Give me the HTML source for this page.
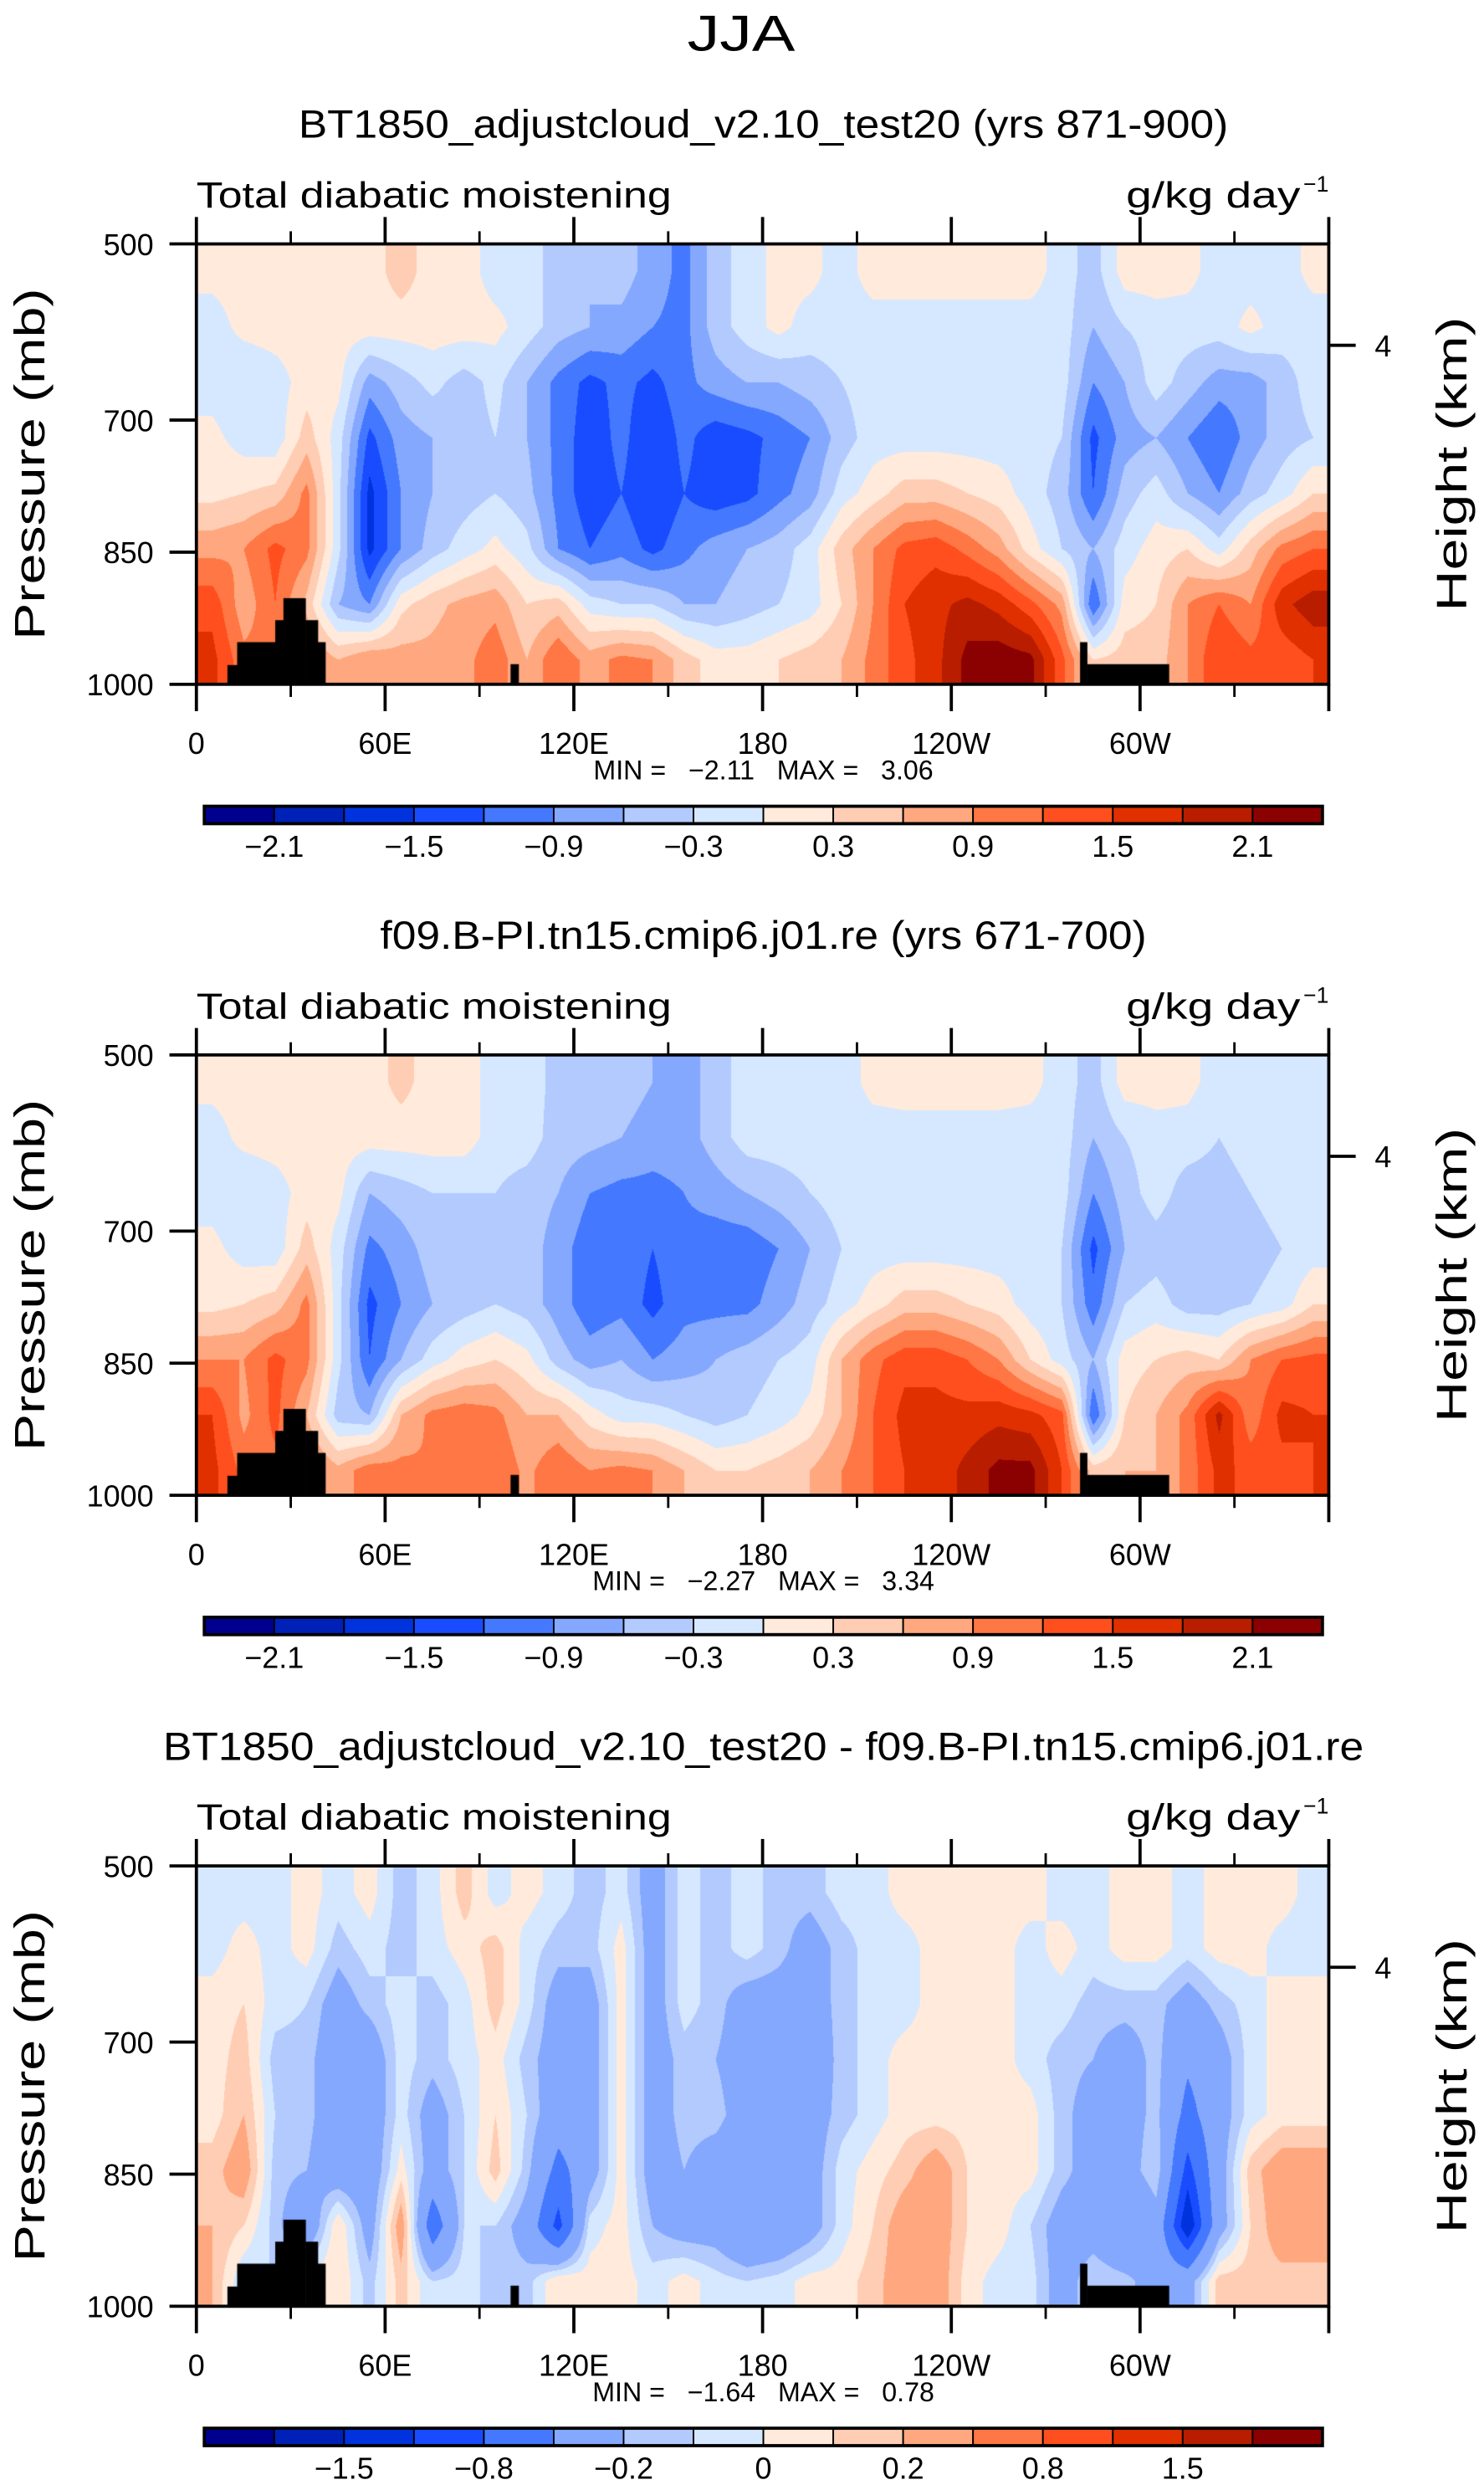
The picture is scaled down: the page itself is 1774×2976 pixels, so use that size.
<!DOCTYPE html>
<html><head><meta charset="utf-8">
<style>
html,body{margin:0;padding:0;background:#fff;}
#root{position:relative;width:1774px;height:2976px;overflow:hidden;background:#fff;}
canvas{position:absolute;}
svg{position:absolute;left:0;top:0;}
text{font-family:"Liberation Sans",sans-serif;fill:#000;white-space:pre;}
</style></head>
<body>
<div id="root">
<canvas id="c0"></canvas>
<canvas id="c1"></canvas>
<canvas id="c2"></canvas>
<svg id="ov" width="1774" height="2976" viewBox="0 0 937 1572" preserveAspectRatio="none"></svg>
</div>
<script>
// ---------- data ----------
const lonCenters = [5,15,25,35,45,55,65,75,85,95,105,115,125,135,145,155,165,175,185,195,205,215,225,235,245,255,265,275,285,295,305,315,325,335,345,355];
const presCenters = [531,594,656,719,781,844,906,969];
const xTickLabels = ["0","60E","120E","180","120W","60W"];
const xTickLons = [0,60,120,180,240,300];
const yTickLabels = ["500","700","850","1000"];
const yTickVals = [500,700,850,1000];
const levelsAB = [-2.1,-1.8,-1.5,-1.2,-0.9,-0.6,-0.3,0,0.3,0.6,0.9,1.2,1.5,1.8,2.1];
const levelsC = [-2,-1.5,-1,-0.8,-0.5,-0.2,-0.1,0,0.1,0.2,0.5,0.8,1,1.5,2];
const cbLabelsAB = ["−2.1","−1.5","−0.9","−0.3","0.3","0.9","1.5","2.1"];
const cbLabelsC = ["−1.5","−0.8","−0.2","0","0.2","0.8","1.5"];
const titles = ["BT1850_adjustcloud_v2.10_test20 (yrs 871-900)","f09.B-PI.tn15.cmip6.j01.re (yrs 671-700)","BT1850_adjustcloud_v2.10_test20 - f09.B-PI.tn15.cmip6.j01.re"];
const titleWidths = [587,484,758];
const minVals = ["−2.11","−2.27","−1.64"];
const maxVals = ["3.06","3.34","0.78"];
const topoLon0 = [9.8,12.9,25,27.6,34.6,38.5,99.8,280.8,283];
const topoLon1 = [12.9,25,27.6,34.6,38.5,40.9,102.3,283,309];
const topoP = [978,952,927,902,927,952,977,952,977];

const field1 = [
[0.1,0.15,0.15,0.15,0.15,0.15,0.45,0.15,0.15,-0.15,-0.15,-0.45,-0.6,-0.45,-0.75,-1.0,-0.45,-0.15,0.1,0.1,-0.15,0.15,0.15,0.15,0.15,0.15,0.15,-0.15,-0.45,0.15,0.15,0.1,-0.15,-0.15,-0.15,0.1],
[-0.15,0.1,0.15,0.15,0.15,0.15,0.15,0.15,0.15,0.1,-0.15,-0.45,-0.6,-0.7,-0.9,-1.0,-0.45,-0.15,0.1,-0.15,-0.15,-0.15,-0.15,-0.15,-0.15,-0.15,-0.15,-0.15,-0.6,-0.3,-0.15,-0.15,-0.15,0.1,-0.15,-0.15],
[-0.15,-0.3,-0.15,0.15,0.1,-0.75,-0.45,-0.2,-0.45,-0.2,-0.6,-1.0,-1.3,-1.1,-1.3,-1.0,-0.75,-0.6,-0.6,-0.45,-0.3,-0.15,-0.15,-0.15,-0.15,-0.15,-0.15,-0.15,-0.9,-0.6,-0.15,-0.45,-0.75,-0.75,-0.45,-0.15],
[0.1,-0.15,-0.2,0.45,-0.15,-1.3,-0.75,-0.6,-0.45,-0.3,-0.6,-1.0,-1.4,-1.1,-1.5,-1.1,-1.4,-1.3,-1.1,-0.9,-0.45,-0.15,-0.15,-0.15,-0.15,-0.15,-0.15,-0.3,-1.3,-0.75,-0.6,-0.9,-1.2,-0.75,-0.45,-0.3],
[0.2,0.3,0.4,1.0,-0.2,-1.6,-0.9,-0.6,-0.45,-0.3,-0.5,-1.0,-1.4,-1.2,-1.5,-1.2,-1.4,-1.3,-1.0,-0.75,-0.15,0.15,0.45,0.45,0.3,0.15,-0.15,-0.45,-1.2,-0.45,-0.15,-0.6,-0.9,-0.45,-0.15,0.3],
[0.8,0.9,1.3,1.0,-0.2,-1.6,-0.9,-0.45,-0.15,0.1,-0.2,-0.9,-1.2,-1.0,-1.3,-1.0,-0.75,-0.6,-0.45,-0.15,0.45,0.9,1.3,1.4,1.1,0.75,0.15,-0.3,-0.6,-0.15,0.15,0.3,-0.15,0.45,1.0,1.2],
[1.4,0.7,1.2,0.5,-0.6,-0.9,0.2,0.5,0.7,0.8,0.3,0.45,-0.15,-0.3,-0.3,-0.6,-0.6,-0.45,-0.3,-0.15,0.3,0.9,1.5,1.7,1.9,1.7,1.3,0.8,-1.2,0.15,0.3,0.9,1.2,0.9,1.7,2.0],
[1.6,1.0,1.0,1.0,0.6,0.9,0.75,0.7,0.8,1.1,0.6,1.2,0.75,1.0,0.9,0.45,0.15,0.15,0.3,0.45,0.6,1.0,1.4,1.7,2.2,2.3,2.2,1.3,0.3,0.45,0.45,0.9,1.5,1.3,1.3,1.5]
];
const field2 = [
[0.1,0.15,0.15,0.15,0.15,0.15,0.4,0.15,0.15,-0.15,-0.15,-0.4,-0.45,-0.45,-0.6,-0.75,-0.45,-0.15,-0.15,-0.15,-0.15,0.1,0.15,0.15,0.15,0.15,0.1,-0.15,-0.45,0.15,0.15,0.1,-0.15,-0.15,-0.15,-0.15],
[-0.15,0.1,0.15,0.15,0.15,0.15,0.15,0.15,0.15,-0.15,-0.15,-0.45,-0.5,-0.6,-0.75,-0.75,-0.45,-0.15,-0.15,-0.15,-0.15,-0.15,-0.15,-0.15,-0.15,-0.15,-0.15,-0.15,-0.6,-0.3,-0.15,-0.15,-0.3,-0.15,-0.15,-0.15],
[-0.15,-0.3,-0.15,0.15,0.1,-0.6,-0.45,-0.3,-0.3,-0.3,-0.45,-0.6,-0.9,-1.0,-1.0,-0.9,-0.75,-0.6,-0.45,-0.3,-0.15,-0.15,-0.15,-0.15,-0.15,-0.15,-0.15,-0.15,-0.9,-0.45,-0.15,-0.45,-0.45,-0.3,-0.15,-0.15],
[0.1,-0.15,-0.2,0.45,-0.15,-1.0,-0.75,-0.45,-0.45,-0.3,-0.45,-0.75,-1.1,-1.0,-1.2,-1.0,-1.1,-1.1,-0.9,-0.6,-0.3,-0.15,-0.15,-0.15,-0.15,-0.15,-0.15,-0.3,-1.3,-0.6,-0.45,-0.6,-0.6,-0.45,-0.3,-0.15],
[0.2,0.3,0.45,1.0,-0.2,-1.3,-0.9,-0.6,-0.45,-0.3,-0.45,-0.75,-1.1,-1.0,-1.3,-1.0,-1.0,-1.0,-0.75,-0.45,-0.15,0.15,0.45,0.45,0.3,0.15,-0.15,-0.3,-1.1,-0.3,-0.15,-0.45,-0.45,-0.3,-0.15,0.3],
[0.9,0.9,1.3,1.0,-0.2,-1.2,-0.6,-0.15,0.15,0.3,0.1,-0.45,-0.75,-0.6,-0.9,-0.75,-0.6,-0.45,-0.3,-0.15,0.6,1.1,1.4,1.4,1.2,0.9,0.3,-0.15,-0.6,0.15,0.3,0.45,0.3,0.9,1.2,1.3],
[1.5,0.8,1.3,0.6,-0.45,-0.6,0.6,1.0,1.1,1.0,0.6,0.6,0.15,-0.15,-0.15,-0.3,-0.45,-0.3,-0.15,0.1,0.6,1.2,1.6,1.6,1.6,1.7,1.6,1.3,-1.2,0.3,0.6,1.0,1.9,1.0,1.6,1.5],
[1.6,1.1,1.1,1.1,0.7,1.1,1.0,0.9,1.0,1.2,0.8,1.2,0.9,1.0,0.9,0.6,0.3,0.3,0.45,0.6,0.9,1.2,1.5,1.6,1.9,2.2,2.2,1.5,0.45,0.6,0.6,1.0,1.6,1.4,1.4,1.5]
];
const field3 = [
[-0.05,-0.05,-0.05,0.05,-0.05,0.05,-0.15,-0.05,0.15,-0.05,0.05,-0.05,-0.15,-0.05,-0.3,-0.05,-0.15,-0.05,-0.15,-0.15,-0.05,-0.05,0.05,0.05,0.05,0.05,0.05,-0.05,-0.05,0.05,0.05,-0.05,0.05,0.05,0.05,-0.05],
[-0.05,0.05,-0.05,0.05,-0.15,-0.05,-0.15,-0.05,0.05,0.15,-0.05,-0.15,-0.15,0.05,-0.3,-0.05,-0.15,-0.05,-0.15,-0.3,-0.15,-0.05,-0.05,0.05,0.05,0.05,-0.05,0.05,-0.05,0.05,0.05,-0.05,0.05,0.05,-0.05,-0.05],
[0.05,0.1,-0.05,-0.1,-0.3,-0.15,-0.05,-0.15,-0.05,0.15,-0.05,-0.3,-0.3,0.05,-0.3,-0.05,-0.15,-0.3,-0.3,-0.3,-0.15,-0.05,-0.05,0.05,0.05,0.05,-0.05,-0.05,-0.15,-0.15,-0.15,-0.3,-0.15,-0.05,0.05,0.05],
[0.05,0.15,-0.15,-0.15,-0.35,-0.35,-0.05,-0.15,-0.05,0.05,-0.15,-0.3,-0.3,0.05,-0.3,-0.15,-0.2,-0.3,-0.35,-0.35,-0.15,-0.05,0.05,0.05,0.05,0.05,-0.05,-0.15,-0.2,-0.3,-0.15,-0.45,-0.3,-0.05,0.05,0.05],
[0.05,0.2,-0.1,-0.15,-0.35,-0.35,-0.05,-0.3,-0.1,0.1,-0.1,-0.35,-0.3,0.05,-0.3,-0.15,-0.15,-0.3,-0.35,-0.3,-0.15,-0.05,0.05,0.05,0.05,0.05,0.05,-0.15,-0.3,-0.3,-0.15,-0.6,-0.3,-0.05,0.05,0.05],
[0.15,0.3,-0.15,-0.2,-0.35,-0.35,0.05,-0.3,-0.1,0.15,-0.15,-0.6,-0.3,0.05,-0.3,-0.2,-0.3,-0.35,-0.35,-0.3,-0.05,0.05,0.15,0.3,0.1,0.05,0.05,-0.15,-0.3,-0.3,-0.1,-0.9,-0.3,0.15,0.3,0.3],
[0.2,0.1,-0.15,-0.4,0.1,-0.3,0.3,-0.7,-0.1,-0.1,-0.3,-0.9,-0.05,0.05,-0.2,-0.3,-0.3,-0.5,-0.45,-0.3,-0.05,0.1,0.3,0.3,0.1,0.05,-0.1,-0.3,-0.3,-0.5,-0.3,-1.2,-0.3,0.1,0.3,0.3],
[0.2,-0.1,-0.1,0.05,0.1,-0.15,0.15,-0.1,-0.05,-0.15,-0.15,0.1,0.05,0.05,-0.05,0.05,-0.05,-0.1,-0.05,0.05,0.05,0.15,0.3,0.3,0.05,-0.05,-0.05,-0.3,-0.1,-0.15,-0.3,-0.3,0.15,0.15,0.15,0.15]
];
const fields = [field1, field2, field3];
const palette = ["#00008f","#0021b8","#0033dd","#1a4cff","#4479ff","#85a8ff","#b3caff","#d6e8ff","#ffeadb","#ffcdb3","#ffa880","#ff7744","#ff4f1e","#e03000","#b81d00","#8b0000"];

// ---------- geometry (display coords, scaled) ----------
const S = 1774/937, SY = 2976/1572;
const X0 = 124, X1 = 839, PT = 154, PH = 278, PANEL_DY = 512;
function xOf(lon){ return X0 + (lon/360)*(X1-X0); }
function yOf(p, k){ return PT + k*PANEL_DY + ((p-500)/500)*PH; }

function hexRGB(h){ return [parseInt(h.substr(1,2),16),parseInt(h.substr(3,2),16),parseInt(h.substr(5,2),16)]; }
const palRGB = palette.map(hexRGB);

function sample(f, lon, p){
  let fi = (lon - lonCenters[0]) / 10;
  let fj = (p - presCenters[0]) / (presCenters[1]-presCenters[0]);
  fi = Math.max(0, Math.min(lonCenters.length-1, fi));
  fj = Math.max(0, Math.min(presCenters.length-1, fj));
  const i0 = Math.floor(fi), j0 = Math.floor(fj);
  const i1 = Math.min(i0+1, lonCenters.length-1), j1 = Math.min(j0+1, presCenters.length-1);
  const a = fi - i0, b = fj - j0;
  return (f[j0][i0]*(1-a) + f[j0][i1]*a)*(1-b) + (f[j1][i0]*(1-a) + f[j1][i1]*a)*b;
}
function band(v, lev){ let k=0; while(k<lev.length && v>=lev[k]) k++; return k; }

for(let k=0;k<3;k++){
  const cv = document.getElementById('c'+k);
  const W = Math.round((X1-X0)*S), H = Math.round(PH*SY);
  cv.width = W; cv.height = H;
  cv.style.left = (X0*S)+'px'; cv.style.top = ((PT+k*PANEL_DY)*SY)+'px';
  cv.style.width = W+'px'; cv.style.height = H+'px';
  const ctx = cv.getContext('2d');
  const img = ctx.createImageData(W,H);
  const lev = k<2 ? levelsAB : levelsC;
  const f = fields[k];
  for(let y=0;y<H;y++){
    const p = 500 + (y+0.5)/H*500;
    for(let x=0;x<W;x++){
      const lon = (x+0.5)/W*360;
      const c = palRGB[band(sample(f,lon,p), lev)];
      const o=(y*W+x)*4; img.data[o]=c[0]; img.data[o+1]=c[1]; img.data[o+2]=c[2]; img.data[o+3]=255;
    }
  }
  ctx.putImageData(img,0,0);
  ctx.fillStyle="#000";
  for(let t=0;t<topoP.length;t++){
    const xa = topoLon0[t]/360*W, xb = topoLon1[t]/360*W;
    const ya = (topoP[t]-500)/500*H;
    ctx.fillRect(xa, ya, xb-xa+0.5, H-ya);
  }
}

// ---------- SVG overlay ----------
const NS="http://www.w3.org/2000/svg";
const ov=document.getElementById('ov');
function el(tag, attrs, parent){ const e=document.createElementNS(NS,tag); for(const a in attrs) e.setAttribute(a,attrs[a]); (parent||ov).appendChild(e); return e; }
function txt(str, attrs, parent){ const e=el('text',attrs,parent); e.textContent=str; return e; }

const sup = txt("JJA",{x:468,y:32,"font-size":32,"text-anchor":"middle",textLength:68,lengthAdjust:"spacingAndGlyphs"});



for(let k=0;k<3;k++){
  const dy=k*PANEL_DY;
  const g=el('g',{});
  
  
  const tt=txt(titles[k],{x:482,y:87+dy,"font-size":25,"text-anchor":"middle",textLength:titleWidths[k],lengthAdjust:"spacingAndGlyphs"},g);
  
  
  const lt=txt("Total diabatic moistening",{x:124,y:131+dy,"font-size":23,textLength:300,lengthAdjust:"spacingAndGlyphs"},g);
  
  
  const ut=txt("g/kg day",{x:711,y:131+dy,"font-size":23,textLength:110,lengthAdjust:"spacingAndGlyphs"},g);
  
  
  txt("−1",{x:823,y:121+dy,"font-size":14},g);
  const fr=el('rect',{x:X0,y:PT+dy,width:X1-X0,height:PH,fill:"none",stroke:"#000","stroke-width":2},g);
  
  
  for(let lon=0;lon<=360;lon+=30){
    const x=xOf(lon), major=(lon%60===0), L=major?17:8;
    el('line',{x1:x,x2:x,y1:PT+dy,y2:PT+dy-L,stroke:"#000","stroke-width":major?2:1.5},g);
    el('line',{x1:x,x2:x,y1:PT+dy+PH,y2:PT+dy+PH+L,stroke:"#000","stroke-width":major?2:1.5},g);
  }
  for(let i=0;i<xTickLabels.length;i++){
    const t=txt(xTickLabels[i],{x:xOf(xTickLons[i]),y:476+dy,"font-size":19,"text-anchor":"middle"},g);
    
    
  }
  for(let i=0;i<yTickVals.length;i++){
    const y=yOf(yTickVals[i],k);
    el('line',{x1:X0,x2:X0-17,y1:y,y2:y,stroke:"#000","stroke-width":2},g);
    const t=txt(yTickLabels[i],{x:97,y:y+7,"font-size":19,"text-anchor":"end"},g);
    
    
  }
  el('line',{x1:X1,x2:X1+17,y1:218+dy,y2:218+dy,stroke:"#000","stroke-width":2},g);
  txt("4",{x:868,y:225+dy,"font-size":19},g);
  const yt=txt("Pressure (mb)",{x:0,y:0,"font-size":27,"text-anchor":"middle",transform:`translate(28,${293+dy}) rotate(-90)`,textLength:222,lengthAdjust:"spacingAndGlyphs"},g);
  
  
  const rt=txt("Height (km)",{x:0,y:0,"font-size":27,"text-anchor":"middle",transform:`translate(926,${293+dy}) rotate(-90)`,textLength:186,lengthAdjust:"spacingAndGlyphs"},g);
  
  
  const mm=txt(`MIN =   ${minVals[k]}   MAX =   ${maxVals[k]}`,{x:482,y:492+dy,"font-size":17,"text-anchor":"middle"},g);
  
  
  const cb=el('g',{},g);
  
  
  const cbX=129, cbW=706, bw=cbW/16, cbY=509+dy;
  for(let i=0;i<16;i++){
    el('rect',{x:cbX+i*bw,y:cbY,width:bw,height:11,fill:palette[i],stroke:"#000","stroke-width":1},cb);
  }
  el('rect',{x:cbX,y:cbY,width:cbW,height:11,fill:"none",stroke:"#000","stroke-width":2},cb);
  const labs = k<2 ? cbLabelsAB : cbLabelsC;
  for(let i=0;i<labs.length;i++){
    const bi = k<2 ? 1+2*i : 2+2*i;
    const t=txt(labs[i],{x:cbX+bi*bw,y:541+dy,"font-size":19,"text-anchor":"middle"},cb);
    
    
  }
}
</script>
</body></html>
